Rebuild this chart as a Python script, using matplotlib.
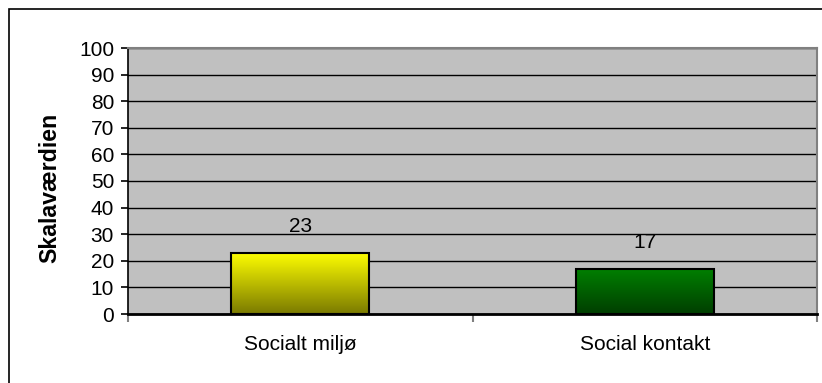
import matplotlib
matplotlib.use("Agg")
import matplotlib.pyplot as plt
import numpy as np
from matplotlib.patches import Rectangle
from matplotlib.colors import LinearSegmentedColormap

categories = ["Socialt miljø", "Social kontakt"]
values = [23, 17]
y_ticks = list(range(0, 101, 10))
top_colors = ["#FFFF00", "#008000"]
bottom_colors = ["#7A7A00", "#003E00"]

plt.rcParams['font.family'] = ['Liberation Sans', 'DejaVu Sans']

W, H = 822, 383
fig = plt.figure(figsize=(W / 100, H / 100), dpi=100)
fig.patch.set_facecolor("white")

# outer chart frame
fig.patches.append(Rectangle((9 / W, -0.1), 1.2, 1 - 9 / H + 0.1, transform=fig.transFigure,
                             fill=False, edgecolor="black", linewidth=1.2))

ax = fig.add_axes([128 / W, 1 - 314 / H, (817 - 128) / W, (314 - 48) / H])
ax.set_facecolor("#C0C0C0")

x = np.arange(len(categories))
bars = ax.bar(x, values, width=0.40, color="none", edgecolor="black", linewidth=1.5, zorder=4)

grad = np.linspace(0, 1, 256).reshape(-1, 1)
for b, tc, bc in zip(bars, top_colors, bottom_colors):
    cmap = LinearSegmentedColormap.from_list("g", [bc, tc])
    x0, y0 = b.get_x(), b.get_y()
    w, h = b.get_width(), b.get_height()
    ax.imshow(grad, cmap=cmap, aspect="auto", origin="lower",
              extent=(x0, x0 + w, y0, y0 + h), zorder=3)

for xi, v in zip(x, values):
    ax.annotate(f"{v}", (xi, v), xytext=(0, 19), textcoords="offset points",
                ha="center", va="center", fontsize=15, color="black")

ax.set_xlim(-0.5, len(categories) - 0.5)
ax.set_ylim(0, 100)
ax.set_yticks(y_ticks)
ax.set_yticklabels([str(t) for t in y_ticks], fontsize=15)
ax.yaxis.grid(True, color="black", linewidth=1.0, zorder=1)
ax.set_axisbelow(True)

ax.set_xticks(np.arange(len(categories) + 1) - 0.5)
ax.set_xticklabels([])
ax.set_xticks(x, minor=True)
ax.set_xticklabels(categories, minor=True, fontsize=15)
ax.tick_params(axis="x", which="minor", length=0, pad=15)
ax.tick_params(axis="x", which="major", length=6, width=1.5, color="#808080", direction="out")
ax.tick_params(axis="y", length=5, width=1.2, color="black", direction="out", pad=5)

for s in ["top", "right"]:
    ax.spines[s].set_color("#808080")
    ax.spines[s].set_linewidth(1.5)
ax.spines["left"].set_color("black")
ax.spines["left"].set_linewidth(1.2)
ax.spines["bottom"].set_color("black")
ax.spines["bottom"].set_linewidth(2)

ax.set_ylabel("Skalaværdien", fontsize=16.7, fontweight="bold")
ax.yaxis.set_label_coords(-0.096, 0.475)

fig.savefig("out.png", dpi=100)
